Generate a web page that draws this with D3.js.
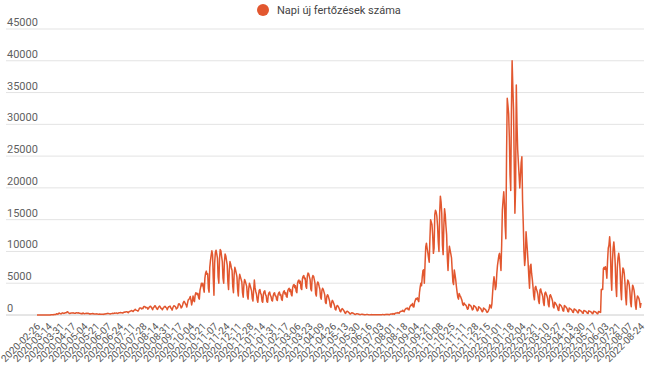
<!DOCTYPE html>
<html lang="hu">
<head>
<meta charset="utf-8">
<script src="https://d3js.org/d3.v7.min.js"></script>
<style>
  body { margin: 0; background: #fff; }
  text { font-family: Roboto, "Noto Sans", sans-serif; }
</style>
</head>
<body>
<div id="chart"></div>
<script>
// daily values, one array per run of consecutive dates
var periodA = ["2020-02-26", "2021-07-03"];
var casesA = [
  1,0,1,1,0,0,0, 0,0,1,2,0,5,4, 2,6,4,13,15,10,35, 26,35,60,57,70,66,78,
  186,144,123,263,308,246,199, 192,308,337,253,280,323,344, 360,478,523,335,295,237,270, 300,331,317,348,288,278,270,
  349,340,304,355,318,261,279, 197,237,190,320,239,195,219, 239,258,245,275,242,159,184, 150,216,191,230,190,140,175,
  142,169,182,145,100,118,152, 119,137,132,127,133,92,167, 157,186,193,256,222,220,178, 167,196,217,264,245,242,305,
  264,293,326,251,275,320,351, 360,387,342,352,309,383,460, 445,477,501,527,429,354,508, 538,605,662,698,612,555,714,
  777,889,767,730,690,610,808, 1030,1112,1119,965,1051,1003,1304, 1356,1295,1150,1182,1171,926,1009, 1233,1346,1378,1215,1053,833,1161,
  1241,1454,1408,1145,968,890,1160, 1300,1409,1256,1060,1014,817,1060, 1195,1339,1357,1181,1106,817,1136, 1311,1338,1397,1124,1017,761,1140,
  1382,1456,1372,1244,956,1062,1190, 1713,1767,1645,1432,1119,1240,1570, 1958,2158,2017,1767,1591,1250,1842, 2343,2460,2617,2919,2346,1591,2148,
  3000,2300,2100,3100,3500,3400,3200, 3400,2700,2500,3900,4400,5000,4600, 5000,4200,3600,5800,6600,6900,6400, 6500,4200,3600,7500,8600,9400,10100,
  9500,5800,3100,8200,9800,10200,9600, 9000,6000,5000,8800,10300,10100,9200, 8400,5800,5000,8300,9600,9300,8600, 7900,5200,4000,7000,8400,8000,7400,
  7000,4500,3500,6400,7500,7100,6600, 6000,4000,3000,5500,6400,6000,5600, 5200,3500,2800,4800,5600,5300,4900, 4500,3000,2500,4200,5000,4600,4200,
  3800,2600,2200,3900,5500,4300,3700, 3300,2400,2000,3100,3900,4000,3400, 3200,2200,2000,3300,3700,3800,3200, 3000,2100,2000,3100,3500,3600,3100,
  2900,2300,2200,3000,3400,3500,3000, 3000,2400,2300,3200,3500,3600,3100, 3200,2500,2300,3300,3700,3800,3300, 3500,2900,2800,3800,4100,4200,3700,
  4000,3200,3000,4300,4700,4800,4300, 4600,3700,3500,5000,5400,5500,5000, 5300,4200,4000,5700,6100,6200,5700, 5800,4500,4200,6100,6600,6500,6000,
  5600,4100,3800,5800,6200,6100,5600, 5000,3300,3000,4800,5200,5000,4500, 4100,2800,2500,3900,4200,4000,3600, 3200,2000,1800,2900,3200,3000,2600,
  2200,1400,1200,2000,2300,2100,1800, 1500,900,800,1300,1500,1400,1200, 950,600,500,850,1000,900,750, 600,330,250,500,600,550,450,
  350,200,150,300,350,320,270, 200,110,80,160,200,180,150, 120,60,50,100,120,110,90, 80,40,30,60,80,70,60,
  55,30,20,45,60,50,45, 50,25,20,40,50,45,40, 45,25,20,50
];

var periodB = ["2021-07-16", "2022-06-03"];
var casesB = [
  55,50,60,
  60,40,35,80,100,90,80, 110,55,50,120,150,140,120, 220,150,130,260,300,320,300, 400,300,280,480,560,600,580,
  750,600,520,800,950,1050,1000, 1100,850,800,1250,1450,1600,1500, 1800,1300,1250,2000,2300,2600,2500, 2700,2300,2100,3500,4400,5000,4600,
  6000,7000,7100,5000,8000,10700,11300, 10500,9800,9000,8300,12000,15000,14600, 14200,12500,9700,10500,15800,16500,16200, 15500,14000,11500,10000,16000,18700,17800,
  16000,11000,9500,14000,16700,15800,14000, 12600,9000,7000,9500,10800,10200,9600, 9000,7000,5200,4800,7100,6400,5600, 4500,3600,2800,2500,3400,3100,2900,
  2600,2300,1700,1500,
  1900,1700,1600,1500,1200,900,1000, 1700,1600,1500,1400,1100,800,900, 1500,1400,1300,1200,900,650,750, 1300,1200,1100,1000,750,500,600,
  1100,1000,900,850,600,400,500,
  700,1000,1600,1400,1100,1800,3500, 5000,6000,5200,4000,4500,6500,7800, 8600,9400,9700,8500,7000,11000,16500, 18000,19400,17500,14000,12000,25000,34100,
  33000,31700,28000,22000,19600,32000,40000, 36000,32500,24000,16000,20000,36200,30000, 26000,24000,22000,20000,22000,24000,24900, 18000,14400,10000,7800,9000,13100,11500,
  10000,8100,6000,4200,7700,8000,6500, 5600,4400,3000,2400,4300,4500,4000, 3700,3200,2200,1800,3900,4100,3600, 3300,2900,1900,1500,3400,3600,3300,
  3000,2600,1600,1300,3000,3200,2900, 2600,2200,1300,1100,
  2000,1900,1700,1500,1300,800,700, 1700,1600,1500,1300,1100,650,600, 1500,1400,1300,1150,950,550,500, 1100,1000,950,850,700,420,400,
  950,900,820,740,600,360,340, 820,780,700,620,520,300,280, 720,680,620,550,460,260,240, 650,610,560,490,410,230,210,
  600,560,510,450,370,210,190, 560,520,470,400,
  4000,4100,4000,7300,7500,7200,7600
];

var periodC = ["2022-07-05", "2022-08-24"];
var casesC = [
  7000,5800,8500,10500,11000,12300,10800, 6000,3900,8500,10500,11500,10200,8000, 4500,2900,7500,9000,9700,8800,7000,
  4000,2400,6000,7400,7200,6500,5000, 2800,1600,4500,5500,5300,4800,3800, 2000,1300,3500,4700,4400,3900,3000,
  1500,900,2400,3000,2800,2600,2100, 1200,1900
];

var tickLabels = [
  "2020-02-26","2020-03-14","2020-03-31","2020-04-17","2020-05-04","2020-05-21","2020-06-07","2020-06-24",
  "2020-07-11","2020-07-28","2020-08-14","2020-08-31","2020-09-17","2020-10-04","2020-10-21","2020-11-07",
  "2020-11-24","2020-12-11","2020-12-28","2021-01-14","2021-01-31","2021-02-17","2021-03-06","2021-03-23",
  "2021-04-09","2021-04-26","2021-05-13","2021-05-30","2021-06-16","2021-07-03","2021-08-01","2021-08-18",
  "2021-09-04","2021-09-21","2021-10-08","2021-10-25","2021-11-11","2021-11-28","2021-12-15","2022-01-01",
  "2022-01-18","2022-02-04","2022-02-21","2022-03-10","2022-03-27","2022-04-13","2022-04-30","2022-05-17",
  "2022-06-03","2022-07-21","2022-08-07","2022-08-24"
];
var yTicks = [0, 5000, 10000, 15000, 20000, 25000, 30000, 35000, 40000, 45000];
var seriesName = "Napi új fertőzések száma";

var width = 649, height = 385;
var color = "#e2572f";

var parse = d3.utcParse("%Y-%m-%d"), fmt = d3.utcFormat("%Y-%m-%d");
var data = [], problems = [];
[[periodA, casesA], [periodB, casesB], [periodC, casesC]].forEach(function (p) {
  var days = d3.utcDay.range(parse(p[0][0]), d3.utcDay.offset(parse(p[0][1]), 1));
  if (days.length != p[1].length) problems.push(p[0][0] + ": " + days.length + " vs " + p[1].length);
  days.forEach(function (d, i) { data.push({ date: fmt(d), value: p[1][i] }); });
});

var svg = d3.select("#chart").append("svg")
  .attr("width", width)
  .attr("height", height);

var x = d3.scalePoint()
  .domain(data.map(function (d) { return d.date; }))
  .range([37, 641]);

var y = d3.scaleLinear()
  .domain([0, 45000])
  .range([315, 29]);

// grid + y labels
svg.append("g").selectAll("line")
  .data(yTicks)
  .enter().append("line")
  .attr("x1", 6).attr("x2", 644)
  .attr("y1", function (d) { return y(d); })
  .attr("y2", function (d) { return y(d); })
  .attr("stroke", function (d) { return d == 0 ? "#cccccc" : "#e3e3e3"; })
  .attr("stroke-width", 1);

svg.append("g").selectAll("text")
  .data(yTicks)
  .enter().append("text")
  .attr("x", 7)
  .attr("y", function (d) { return y(d) - 3; })
  .attr("font-size", "11px")
  .attr("fill", "#5f5f5f")
  .text(function (d) { return d; });

// x labels, slanted
svg.append("g").selectAll("text")
  .data(tickLabels)
  .enter().append("text")
  .attr("transform", function (d) { return "translate(" + (x(d) + 4) + ",327) rotate(-45)"; })
  .attr("text-anchor", "end")
  .attr("font-size", "10px")
  .attr("fill", "#555555")
  .text(function (d) { return d; });

// the series
var line = d3.line()
  .x(function (d) { return x(d.date); })
  .y(function (d) { return y(d.value); });

svg.append("path")
  .datum(data)
  .attr("d", line)
  .attr("fill", "none")
  .attr("stroke", color)
  .attr("stroke-width", 1.5)
  .attr("stroke-linejoin", "round");

// legend
svg.append("circle")
  .attr("cx", 263).attr("cy", 10).attr("r", 6)
  .attr("fill", color);
svg.append("text")
  .attr("x", 277).attr("y", 14)
  .attr("font-size", "11px")
  .attr("fill", "#444444")
  .text(seriesName);

if (problems.length) {
  svg.append("text").attr("x", 100).attr("y", 150).attr("fill", "red")
    .attr("font-size", "14px").text(problems.join(" | "));
}
</script>
</body>
</html>
